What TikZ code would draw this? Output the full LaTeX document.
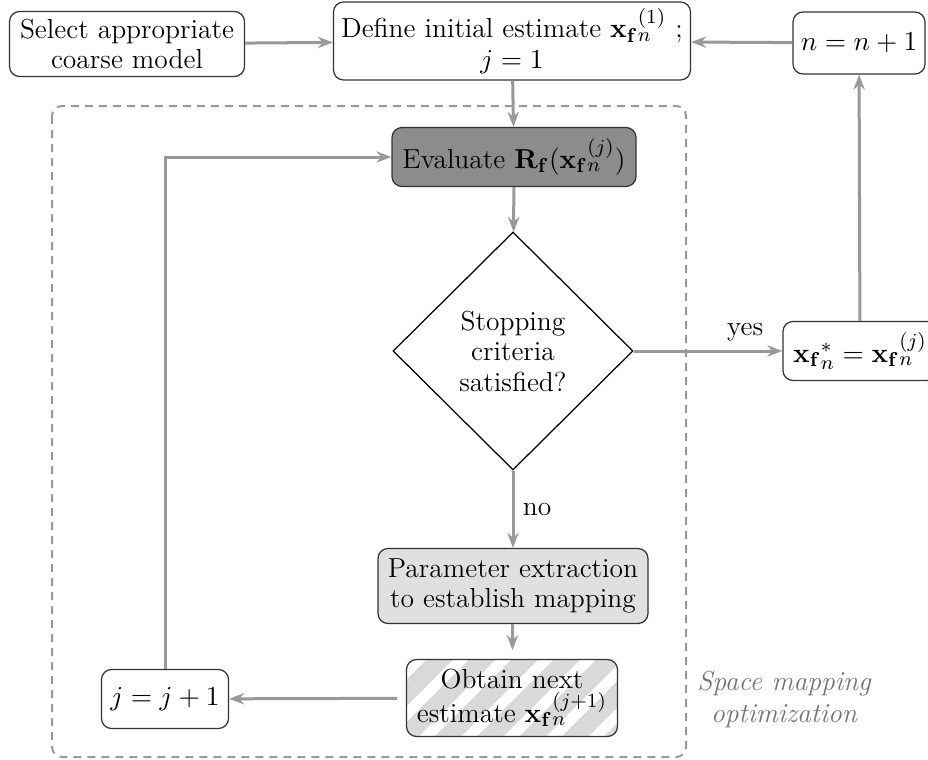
\documentclass[tikz,border=0pt]{standalone}
\usepackage{amsmath}
\usetikzlibrary{shapes.geometric,arrows.meta,patterns.meta}
\definecolor{linegray}{gray}{0.6}
\definecolor{darkfill}{gray}{0.55}
\definecolor{lightfill}{gray}{0.88}
\definecolor{stripegray}{gray}{0.85}
\newcommand{\xfn}{{\mathbf{x}_{\mathbf{f}}}_n}
\begin{document}
\begin{tikzpicture}[x=0.4pt,y=-0.4pt,font=\fontsize{11}{12.2}\selectfont,
  box/.style={draw=black!80,line width=0.5pt,rounded corners=4pt,align=center,inner sep=2pt},
  conn/.style={draw=linegray,line width=1.2pt,-{Stealth[length=6pt,width=4.5pt]}},
  plain/.style={draw=linegray,line width=1.2pt}]
\useasboundingbox (0,0) rectangle (928,760);
\clip (0,0) rectangle (928,760);
\draw[linegray,line width=0.8pt,dash pattern=on 3.2pt off 2.4pt,rounded corners=4pt] (52,106) rectangle (686,757);
\node[box,minimum width=94pt,minimum height=26pt] (sel) at (127,44) {Select appropriate\\coarse model};
\node[box,minimum width=142.8pt,minimum height=31.2pt] (def) at (512,41) {Define initial estimate $\xfn^{(1)}$ ;\\$j=1$};
\node[box,minimum width=52.8pt,minimum height=24.8pt] (inc) at (859,43) {$n=n+1$};
\node[box,fill=darkfill,minimum width=97.6pt,minimum height=23.6pt] (eval) at (514,157) {Evaluate $\mathbf{R}_{\mathbf{f}}(\xfn^{(j)})$};
\node[draw=black,line width=0.5pt,diamond,minimum width=96pt,minimum height=95.2pt,inner sep=0pt,align=center] (stop) at (513,351) {Stopping\\criteria\\satisfied?};
\node[box,minimum width=61.6pt,minimum height=23.6pt] (opt) at (860,351) {$\xfn^{*}=\xfn^{(j)}$};
\node[box,fill=lightfill,minimum width=108pt,minimum height=30pt] (pe) at (513,586) {Parameter extraction\\to establish mapping};
\node[box,pattern={Lines[angle=45,distance=12pt,line width=7.5pt]},pattern color=stripegray,minimum width=84.4pt,minimum height=30.8pt] (next) at (512,698) {Obtain next\\[1.2pt]estimate $\xfn^{(j+1)}$};
\node[box,minimum width=50.8pt,minimum height=23.6pt] (jinc) at (165,699) {$j=j+1$};
\node[text=black!55,align=center,font=\fontsize{11}{12.8}\selectfont\itshape] (sm) at (784,699) {Space mapping\\optimization};
\draw[conn] (sel) -- (def);
\draw[conn] (inc) -- (def);
\draw[conn] (def) -- (eval);
\draw[conn] (eval) -- (stop);
\draw[conn] (stop) -- node[pos=0.75,above,text=black] {yes} (opt);
\draw[conn] (opt) -- (inc);
\draw[conn] (stop) -- node[right,text=black] {no} (pe);
\draw[conn] (pe) -- (next);
\draw[conn] (next) -- (jinc);
\draw[conn] (jinc.north) |- (eval.west);
\end{tikzpicture}
\end{document}
